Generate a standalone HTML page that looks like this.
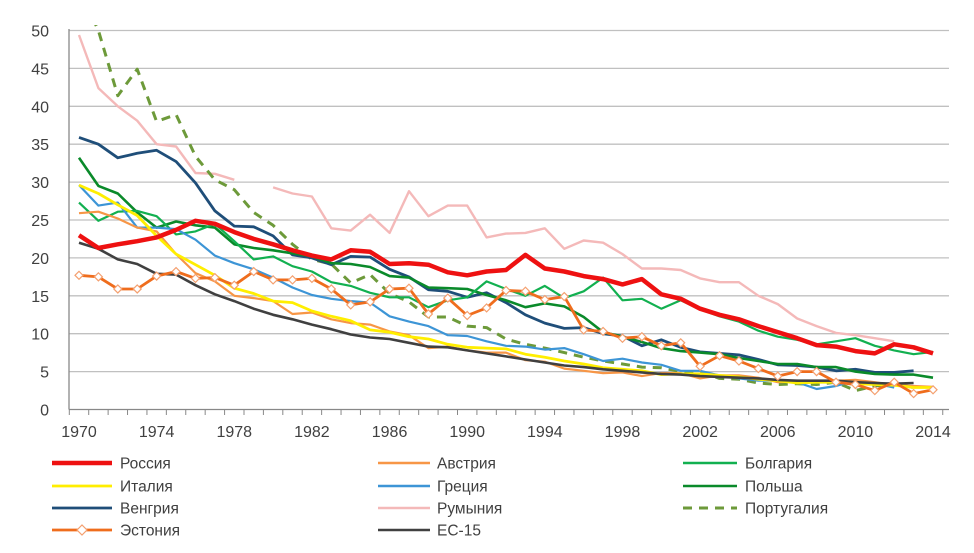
<!DOCTYPE html>
<html><head><meta charset="utf-8"><style>
body{margin:0;background:#fff;}
svg text{font-family:"Liberation Sans","DejaVu Sans",sans-serif;}
</style></head><body>
<svg id="chart" width="974" height="548" xmlns="http://www.w3.org/2000/svg">
<defs><clipPath id="clip"><rect x="69" y="25" width="880" height="390"/></clipPath></defs>
<g id="grid"></g>
<g id="axes"></g>
<g id="series" clip-path="url(#clip)"></g>
<g id="legend"></g>
</svg>
<script>
const years=[];for(let y=1970;y<=2014;y++)years.push(y);
const yTicks=[0,5,10,15,20,25,30,35,40,45,50];
const xTickLabels=[1970,1974,1978,1982,1986,1990,1994,1998,2002,2006,2010,2014];
const russia=[23,21.3,21.8,22.2,22.7,23.7,24.9,24.5,23.4,22.5,21.8,21.0,20.3,19.8,21.0,20.8,19.2,19.3,19.1,18.1,17.7,18.2,18.4,20.4,18.6,18.2,17.6,17.2,16.5,17.2,15.2,14.6,13.3,12.5,11.9,11.0,10.2,9.4,8.5,8.3,7.7,7.4,8.6,8.2,7.4];
const austria=[25.9,26.1,25.2,24.0,23.5,20.5,18.0,16.9,15.0,14.7,14.3,12.6,12.8,11.9,11.4,11.2,10.3,9.8,8.1,8.3,7.8,7.5,7.5,6.5,6.3,5.4,5.1,4.8,4.9,4.4,4.8,4.8,4.1,4.5,4.5,4.2,3.6,3.7,3.7,3.8,3.9,3.6,3.2,3.1,3.0];
const bulgaria=[27.3,24.9,26.1,26.2,25.5,23.1,23.5,24.5,22.2,19.8,20.2,18.9,18.2,16.8,16.3,15.4,14.8,14.8,13.5,14.4,14.8,16.9,15.9,15.0,16.3,14.7,15.6,17.4,14.4,14.6,13.3,14.4,13.2,12.3,11.6,10.4,9.6,9.2,8.6,9.0,9.4,8.4,7.8,7.3,7.6];
const italy=[29.6,28.5,27.0,25.6,22.9,20.5,19.1,17.7,16.0,15.3,14.3,14.1,13.0,12.3,11.7,10.5,10.2,9.6,9.3,8.6,8.2,8.1,8.0,7.3,6.9,6.4,6.0,5.5,5.3,5.1,4.6,4.7,4.7,4.5,4.3,4.0,3.8,3.5,3.6,3.6,3.4,3.3,3.2,2.9,2.9];
const greece=[29.6,26.9,27.3,24.0,24.0,23.8,22.4,20.3,19.3,18.5,17.4,16.1,15.1,14.6,14.3,14.1,12.3,11.6,11.0,9.8,9.7,9.0,8.4,8.3,7.9,8.1,7.3,6.4,6.7,6.2,5.9,5.1,5.1,4.5,4.1,3.8,3.8,3.6,2.7,3.1,3.8,3.4,2.9];
const poland=[33.2,29.5,28.5,26.0,24.0,24.8,24.3,24.0,21.8,21.3,21.0,20.6,20.2,19.3,19.2,18.8,17.6,17.4,16.1,16.0,15.9,15.1,14.4,13.5,14.0,13.6,12.2,10.2,9.6,8.9,8.1,7.7,7.5,7.3,6.8,6.4,6.0,6.0,5.6,5.6,5.0,4.7,4.6,4.6,4.2];
const hungary=[35.9,35.0,33.2,33.8,34.2,32.7,29.9,26.2,24.2,24.1,22.9,20.4,20.0,19.1,20.2,20.1,18.5,17.5,15.8,15.6,14.8,15.4,14.1,12.5,11.4,10.7,10.8,10.0,9.7,8.4,9.2,8.2,7.6,7.4,7.2,6.6,5.9,5.8,5.6,5.1,5.3,4.9,4.9,5.1];
const romania=[49.4,42.4,40.0,38.1,35.0,34.7,31.2,31.1,30.3,null,29.3,28.5,28.1,23.9,23.6,25.7,23.3,28.8,25.5,26.9,26.9,22.7,23.2,23.3,23.9,21.2,22.3,22.0,20.5,18.6,18.6,18.4,17.3,16.8,16.8,15.0,13.9,12.0,11.0,10.1,9.8,9.4,9.0];
const portugal=[55.5,50.0,41.4,44.9,38.0,38.9,33.4,30.3,29.0,26.0,24.3,21.8,19.8,19.2,16.7,17.8,15.3,14.2,12.2,12.2,11.0,10.8,9.3,8.6,8.1,7.5,6.9,6.4,6.0,5.6,5.5,5.0,5.0,4.1,4.0,3.5,3.3,3.4,3.3,3.6,2.5,3.1,3.4,2.9];
const estonia=[17.7,17.5,15.9,15.9,17.6,18.2,17.3,17.4,16.4,18.2,17.1,17.1,17.3,15.9,13.8,14.2,15.9,16.0,12.6,14.7,12.4,13.4,15.7,15.6,14.5,14.9,10.5,10.3,9.4,9.6,8.4,8.8,5.7,7.1,6.4,5.4,4.4,5.0,5.0,3.6,3.3,2.5,3.6,2.1,2.6];
const eu15=[22.0,21.2,19.8,19.2,17.9,17.8,16.4,15.2,14.3,13.3,12.5,11.9,11.2,10.6,9.9,9.5,9.3,8.8,8.3,8.2,7.8,7.4,7.0,6.6,6.2,5.8,5.6,5.3,5.1,4.9,4.7,4.6,4.4,4.3,4.2,4.1,3.9,3.8,3.8,3.8,3.6,3.5,3.4,3.5];

const NS='http://www.w3.org/2000/svg';
const xS=i=>79+i*19.41;
const yS=v=>409.5-v*7.58;
function mk(tag,parent,attrs){const e=document.createElementNS(NS,tag);for(const k in attrs)e.setAttribute(k,attrs[k]);parent.appendChild(e);return e;}
const grid=document.getElementById('grid'),axes=document.getElementById('axes'),ser=document.getElementById('series'),leg=document.getElementById('legend');
yTicks.forEach(t=>{
 if(t>0){const l=mk('line',grid,{x1:69,x2:949,y1:yS(t),y2:yS(t),stroke:'#c0c0c0','stroke-width':1.3});
 
 }
 const tx=mk('text',axes,{x:49,y:yS(t)+6,'text-anchor':'end','font-size':16,fill:'#404040'});tx.textContent=t;
 
 
});
const ax=mk('line',axes,{x1:69,x2:949,y1:409.5,y2:409.5,stroke:'#888','stroke-width':1.3});


const ay=mk('line',axes,{x1:69,x2:69,y1:29,y2:409.5,stroke:'#888','stroke-width':1.3});


for(let i=0;i<=years.length;i++){const x=xS(i)-9.7;mk('line',axes,{x1:x,x2:x,y1:409.5,y2:415,stroke:'#888'});}
xTickLabels.forEach(y=>{const tx=mk('text',axes,{x:xS(y-1970),y:437,'text-anchor':'middle','font-size':16,fill:'#404040'});tx.textContent=y;
 
 });

const seriesDefs=[
 ['Россия',russia,'#ee1111',4.5,null,false,'russia'],
 ['Австрия',austria,'#f79646',2.2,null,false,'austria'],
 ['Болгария',bulgaria,'#12b050',2.2,null,false,'bulgaria'],
 ['Италия',italy,'#ffee00',2.8,null,false,'italy'],
 ['Греция',greece,'#3d95d6',2.2,null,false,'greece'],
 ['Польша',poland,'#0a8a2a',2.6,null,false,'poland'],
 ['Венгрия',hungary,'#1f4e79',2.8,null,false,'hungary'],
 ['Румыния',romania,'#f4b9b9',2.4,null,false,'romania'],
 ['Португалия',portugal,'#6d9a3a',3,'9,7',false,'portugal'],
 ['Эстония',estonia,'#ef6d1d',2.8,null,true,'estonia'],
 ['ЕС-15',eu15,'#404040',2.6,null,false,'eu-15']
];
const drawOrder=[7,8,6,5,2,4,1,3,10,9,0];
drawOrder.forEach(k=>{
 const [name,data,col,w,dash,mark,id]=seriesDefs[k];
 let d='',pen=false;
 data.forEach((v,i)=>{if(v==null){pen=false;return;}d+=(pen?'L':'M')+xS(i).toFixed(1)+' '+yS(v).toFixed(1);pen=true;});
 const p=mk('path',ser,{d:d,fill:'none',stroke:col,'stroke-width':w,'stroke-linejoin':'round'});
 if(dash)p.setAttribute('stroke-dasharray',dash);
 
 
 if(mark)data.forEach((v,i)=>{if(v==null)return;const x=xS(i),y=yS(v);
  const m=mk('path',ser,{d:`M${x-4} ${y}L${x} ${y-4}L${x+4} ${y}L${x} ${y+4}Z`,fill:'#fff',stroke:'#f4a070','stroke-width':1.2});
  
  });
});
const colX=[[52,112,120],[378,430,437],[683,737,745]];
const rowY=[463,486,508,530];
seriesDefs.forEach((s,i)=>{
 const [name,data,col,w,dash,mark,id]=s;
 const c=colX[i%3],y=rowY[Math.floor(i/3)];
 const g=mk('g',leg,{});
 
 
 const l=mk('line',g,{x1:c[0],x2:c[1],y1:y,y2:y,stroke:col,'stroke-width':Math.max(w,2.5)});
 if(dash)l.setAttribute('stroke-dasharray',dash);
 if(mark){const x=(c[0]+c[1])/2;mk('path',g,{d:`M${x-5} ${y}L${x} ${y-5}L${x+5} ${y}L${x} ${y+5}Z`,fill:'#fff',stroke:'#f4a070','stroke-width':1.2});}
 const t=mk('text',g,{x:c[2],y:y+5.5,'font-size':15.5,fill:'#404040'});t.textContent=name;
});
</script>
</body></html>
